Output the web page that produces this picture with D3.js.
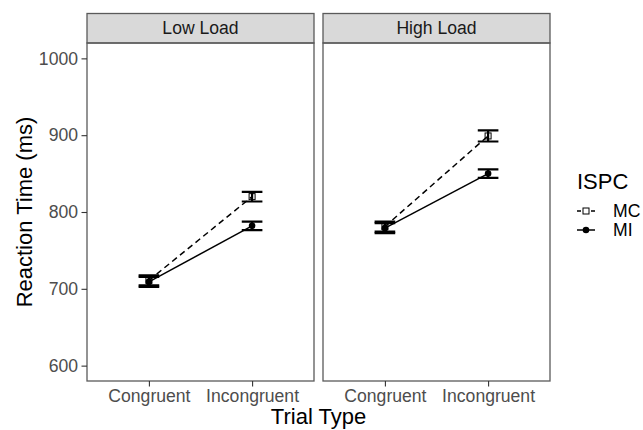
<!DOCTYPE html>
<head>
    <meta charset="utf-8">
    <style>
        body { margin: 0; background: #fff; }
        text { font-family: "Liberation Sans", Arial, sans-serif; }
        .panel-border { fill: none; stroke: #5a5a5a; stroke-width: 1.3px; }
        .strip { fill: #d9d9d9; stroke: #5a5a5a; stroke-width: 1.3px; }
        .strip-text { font-size: 17.6px; fill: #1a1a1a; text-anchor: middle; }
        .axis text { font-size: 17.6px; fill: #4d4d4d; }
        .axis line { stroke: #333; stroke-width: 1.1px; }
        .axis path { display: none; }
        .axis-title { font-size: 22px; fill: #000; text-anchor: middle; }
        .mc-line { fill: none; stroke: #000; stroke-width: 1.5px; stroke-dasharray: 6,4; }
        .mi-line { fill: none; stroke: #000; stroke-width: 1.5px; }
        .errbar { fill: none; stroke: #000; stroke-width: 2.2px; }
        .legend-title { font-size: 22px; fill: #000; }
        .legend-text { font-size: 17.6px; fill: #000; }
    </style>
</head>

<body>
    <script src="https://d3js.org/d3.v7.min.js"></script>

    <script>
        // data (ms)
        var loads = ["Low Load", "High Load"];
        var trialTypes = ["Congruent", "Incongruent"];
        var groups = ["MC", "MI"];
        var yTicks = [600, 700, 800, 900, 1000];

        var mcLow = [711, 820], mcLowSE = [6.5, 6.3];
        var miLow = [709, 782], miLowSE = [6.5, 5.5];
        var mcHigh = [781, 899], mcHighSE = [6.5, 7.2];
        var miHigh = [779, 850], miHighSE = [6.5, 5.6];

        var series = {
            "Low Load": {MC: {mean: mcLow, se: mcLowSE}, MI: {mean: miLow, se: miLowSE}},
            "High Load": {MC: {mean: mcHigh, se: mcHighSE}, MI: {mean: miHigh, se: miHighSE}}
        };

        var width = 643, height = 430;
        var panelTop = 43, panelBottom = 381, stripTop = 13.5;
        var panelLeft = [87, 323], panelWidth = 227;

        var svg = d3.select("body").append("svg")
            .attr("width", width)
            .attr("height", height);

        var y = d3.scaleLinear().domain([580, 1020]).range([panelBottom, panelTop]);

        loads.forEach(function(load, i) {
            var x = d3.scalePoint().domain(trialTypes)
                .range([0, panelWidth]).padding(0.6);
            var step = x.step();

            var g = svg.append("g")
                .attr("transform", "translate(" + panelLeft[i] + ",0)");

            // strip on top
            g.append("rect")
                .attr("class", "strip")
                .attr("x", 0)
                .attr("y", stripTop)
                .attr("width", panelWidth)
                .attr("height", panelTop - stripTop);
            g.append("text")
                .attr("class", "strip-text")
                .attr("x", panelWidth / 2)
                .attr("y", 34.3)
                .text(load);

            // lines for each ISPC group
            var line = d3.line()
                .x(function(d, j) { return x(trialTypes[j]); })
                .y(function(d) { return y(d); });

            g.append("path")
                .datum(series[load].MC.mean)
                .attr("class", "mc-line")
                .attr("d", line);
            g.append("path")
                .datum(series[load].MI.mean)
                .attr("class", "mi-line")
                .attr("d", line);

            // error bars
            groups.forEach(function(grp) {
                var s = series[load][grp];
                var eb = g.selectAll(".eb-" + grp)
                    .data(s.mean)
                    .enter().append("g");
                var hw = step * 0.1;
                eb.append("path")
                    .attr("class", "errbar")
                    .attr("d", function(d, j) {
                        var cx = x(trialTypes[j]);
                        var lo = y(d - s.se[j]), hi = y(d + s.se[j]);
                        return "M" + (cx - hw) + "," + hi + "H" + (cx + hw) +
                            "M" + cx + "," + hi + "V" + lo +
                            "M" + (cx - hw) + "," + lo + "H" + (cx + hw);
                    });
            });

            // points
            g.selectAll(".mc-pt")
                .data(series[load].MC.mean)
                .enter().append("rect")
                .attr("x", function(d, j) { return x(trialTypes[j]) - 3; })
                .attr("y", function(d) { return y(d) - 3; })
                .attr("width", 6)
                .attr("height", 6)
                .attr("fill", "none")
                .attr("stroke", "#000")
                .attr("stroke-width", 1);
            g.selectAll(".mi-pt")
                .data(series[load].MI.mean)
                .enter().append("circle")
                .attr("cx", function(d, j) { return x(trialTypes[j]); })
                .attr("cy", function(d) { return y(d); })
                .attr("r", 3.3)
                .attr("fill", "#000");

            // panel border
            g.append("rect")
                .attr("class", "panel-border")
                .attr("x", 0)
                .attr("y", panelTop)
                .attr("width", panelWidth)
                .attr("height", panelBottom - panelTop);

            // x axis
            g.append("g")
                .attr("class", "axis")
                .attr("transform", "translate(0," + panelBottom + ")")
                .call(d3.axisBottom(x).tickSize(5.5).tickPadding(2.7));

            // y axis only on the first panel
            if (i === 0) {
                g.append("g")
                    .attr("class", "axis")
                    .call(d3.axisLeft(y).tickValues(yTicks).tickFormat(d3.format("d"))
                        .tickSize(5.5).tickPadding(3.5));
            }
        });

        // axis titles
        svg.append("text")
            .attr("class", "axis-title")
            .attr("x", (panelLeft[0] + panelLeft[1] + panelWidth) / 2)
            .attr("y", 424)
            .text("Trial Type");

        svg.append("text")
            .attr("class", "axis-title")
            .attr("transform", "translate(32," + ((panelTop + panelBottom) / 2) + ") rotate(-90)")
            .text("Reaction Time (ms)");

        // legend
        svg.append("text")
            .attr("class", "legend-title")
            .attr("x", 577)
            .attr("y", 189)
            .text("ISPC");

        var legY = d3.scalePoint().domain(groups).range([211, 230]);

        groups.forEach(function(grp) {
            var ly = legY(grp);
            svg.append("line")
                .attr("x1", 577).attr("x2", 595)
                .attr("y1", ly).attr("y2", ly)
                .attr("class", grp === "MC" ? "mc-line" : "mi-line")
                .style("stroke-dasharray", grp === "MC" ? "4,3" : null);
            if (grp === "MC") {
                svg.append("rect")
                    .attr("x", 583).attr("y", ly - 3)
                    .attr("width", 6).attr("height", 6)
                    .attr("fill", "#fff").attr("stroke", "#000").attr("stroke-width", 1);
            } else {
                svg.append("circle")
                    .attr("cx", 586).attr("cy", ly).attr("r", 3.3)
                    .attr("fill", "#000");
            }
            svg.append("text")
                .attr("class", "legend-text")
                .attr("x", 613)
                .attr("y", ly)
                .attr("dy", "0.36em")
                .text(grp);
        });
    </script>
</body>
